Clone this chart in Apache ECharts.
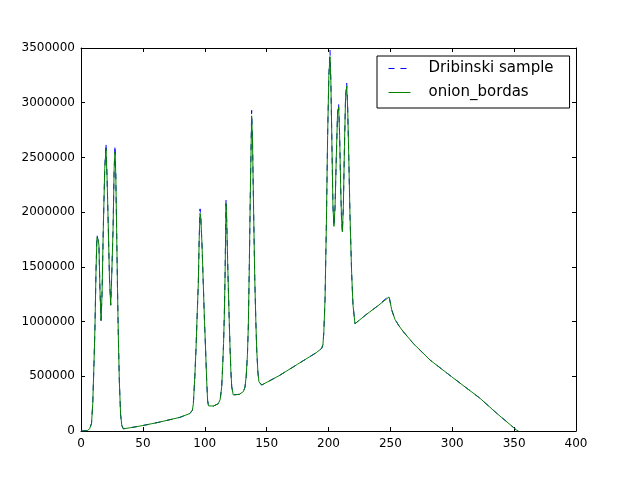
<!DOCTYPE html>
<html>
<head>
    <meta charset="utf-8">
    <title>Dribinski vs onion_bordas</title>
    <script type="text/javascript" src="https://cdn.jsdelivr.net/npm/echarts@6/dist/echarts.min.js"></script>
    <style>
        html, body { margin: 0; padding: 0; background: #fff; }
        #main { width: 640px; height: 480px; }
    </style>
</head>
<body>
    <div id="main"></div>
    <script type="text/javascript">
        var radius = [
            0, 5, 7, 8.5, 9.5, 10.5, 11.3, 12.1, 12.9, 13.7, 14.5, 15.3, 16.2, 17, 18, 19.2, 20.2, 21.1, 22.1, 23, 24, 24.9, 25.9, 26.8, 27.5, 28.1, 28.8, 29.5, 30.2, 31, 32, 33, 34.2,
            40, 50, 63, 80, 88, 90,
            90.8, 92, 92.9, 94, 94.8, 95.5, 96.2, 96.8, 97.8, 98.8, 99.8, 100.7, 101.5, 102.3, 103, 104.2, 107, 111,
            112.5, 113.7, 114.5, 115.2, 115.8, 116.4, 117.2, 117.8, 118.5, 119.2, 119.8, 120.5, 121.1, 121.8, 123, 124.4, 128, 131.2,
            132.5, 133.5, 134.5, 135.2, 136, 136.8, 137.9, 138.6, 139.5, 140.4, 141.3, 142, 143, 143.8, 146,
            160, 175, 190, 194.5, 195.5, 196.2, 197.2, 198.3, 199.3, 200.3, 201.2, 201.9, 202.8, 203.6, 204.4, 205.3, 206.3, 207.3, 208.2, 209, 209.8, 210.5, 211.2, 212, 212.9, 213.8, 214.7, 215.5, 216.4, 217.3, 218.7, 219.8, 221.4, 222.5, 230, 240, 248.9,
            250, 251, 253.7, 257, 260.5, 268.5, 282, 299.5, 322.4, 335.9, 345, 352, 353.5
        ];
        var onionBordas = [
            0, 3000, 20000, 70000, 250000, 620000, 950000, 1450000, 1770000, 1750000, 1700000, 1300000, 1010000, 1250000, 1840000, 2400000, 2580000, 2300000, 1840000, 1400000, 1150000, 1450000, 1840000, 2400000, 2550000, 2350000, 1840000, 1300000, 850000, 450000, 150000, 50000, 20000,
            30000, 50000, 80000, 125000, 160000, 190000,
            250000, 500000, 740000, 1100000, 1350000, 1750000, 1990000, 1950000, 1700000, 1350000, 1000000, 740000, 480000, 280000, 230000, 216000, 228000, 250000,
            290000, 405000, 600000, 800000, 1050000, 1400000, 2080000, 1900000, 1550000, 1250000, 1000000, 740000, 550000, 405000, 330000, 313000, 335000, 360000,
            400000, 500000, 700000, 950000, 1500000, 2150000, 2880000, 2650000, 2000000, 1400000, 1000000, 740000, 530000, 450000, 420000,
            505000, 610000, 715000, 755000, 790000, 900000, 1200000, 1900000, 2700000, 3250000, 3420000, 3200000, 2600000, 2050000, 1870000, 2050000, 2500000, 2900000, 2960000, 2700000, 2250000, 1950000, 1820000, 2050000, 2600000, 3050000, 3150000, 2950000, 2500000, 2000000, 1440000, 1150000, 980000, 985000, 1060000, 1145000, 1225000,
            1170000, 1110000, 1020000, 960000, 907000, 800000, 649000, 496000, 299000, 162000, 75000, 8000, 0
        ];
        var dribinski = [
            0, 3000, 20000, 70000, 250000, 620000, 950000, 1450000, 1790000, 1750000, 1700000, 1300000, 1010000, 1250000, 1840000, 2400000, 2630000, 2300000, 1840000, 1400000, 1150000, 1450000, 1840000, 2400000, 2610000, 2350000, 1840000, 1300000, 850000, 450000, 150000, 50000, 20000,
            30000, 50000, 80000, 125000, 160000, 190000,
            250000, 500000, 740000, 1100000, 1350000, 1750000, 2030000, 1950000, 1700000, 1350000, 1000000, 740000, 480000, 280000, 230000, 216000, 228000, 250000,
            290000, 405000, 600000, 800000, 1050000, 1400000, 2120000, 1900000, 1550000, 1250000, 1000000, 740000, 550000, 405000, 330000, 313000, 335000, 360000,
            400000, 500000, 700000, 950000, 1500000, 2150000, 2930000, 2650000, 2000000, 1400000, 1000000, 740000, 530000, 450000, 420000,
            505000, 610000, 715000, 755000, 790000, 900000, 1200000, 1900000, 2700000, 3250000, 3480000, 3200000, 2600000, 2050000, 1870000, 2050000, 2500000, 2900000, 2990000, 2700000, 2250000, 1950000, 1820000, 2050000, 2600000, 3050000, 3180000, 2950000, 2500000, 2000000, 1440000, 1150000, 980000, 985000, 1060000, 1145000, 1235000,
            1170000, 1110000, 1020000, 960000, 907000, 800000, 649000, 496000, 299000, 162000, 75000, 8000, 0
        ];
        var seriesNames = ['Dribinski sample', 'onion_bordas'];

        function pairs(values) {
            return radius.map(function (r, i) { return [r, values[i]]; });
        }

        var font = 'DejaVu Sans';
        var tick = { show: true, inside: true, length: 4, lineStyle: { color: '#000' } };
        var line = { show: true, onZero: false, lineStyle: { color: '#000', width: 1 } };

        var option = {
            animation: false,
            backgroundColor: '#fff',
            grid: { left: 81, right: 64, top: 48, bottom: 49, containLabel: false },
            legend: {
                data: seriesNames,
                orient: 'vertical',
                left: 377,
                top: 56,
                padding: [5, 16, 8, 11],
                itemGap: 9,
                itemWidth: 22,
                itemHeight: 16,
                borderColor: '#000',
                borderWidth: 1,
                borderRadius: 0,
                backgroundColor: '#fff',
                itemStyle: { opacity: 0 },
                lineStyle: { width: 1 },
                textStyle: { fontFamily: font, fontSize: 15, color: '#000', padding: [0, 0, 0, 13] }
            },
            xAxis: [{
                type: 'value', min: 0, max: 400, interval: 50,
                axisLine: line, axisTick: tick, splitLine: { show: false },
                axisLabel: { fontFamily: font, fontSize: 12, color: '#000', margin: 7 }
            }, {
                type: 'value', position: 'top', min: 0, max: 400, interval: 50,
                axisLine: line, axisTick: tick, splitLine: { show: false },
                axisLabel: { show: false }
            }],
            yAxis: [{
                type: 'value', min: 0, max: 3500000, interval: 500000,
                axisLine: line, axisTick: tick, splitLine: { show: false },
                axisLabel: {
                    fontFamily: font, fontSize: 12, color: '#000', margin: 6,
                    formatter: function (v) { return String(v); }
                }
            }, {
                type: 'value', position: 'right', min: 0, max: 3500000, interval: 500000,
                axisLine: line, axisTick: tick, splitLine: { show: false },
                axisLabel: { show: false }
            }],
            series: [{
                name: seriesNames[0],
                type: 'line',
                symbol: 'none',
                data: pairs(dribinski),
                lineStyle: { color: '#0000ff', width: 1, type: [6, 6] },
                itemStyle: { color: '#0000ff' }
            }, {
                name: seriesNames[1],
                type: 'line',
                symbol: 'none',
                data: pairs(onionBordas),
                lineStyle: { color: '#008000', width: 1 },
                itemStyle: { color: '#008000' }
            }]
        };

        echarts.init(document.getElementById('main')).setOption(option);
    </script>
</body>
</html>
